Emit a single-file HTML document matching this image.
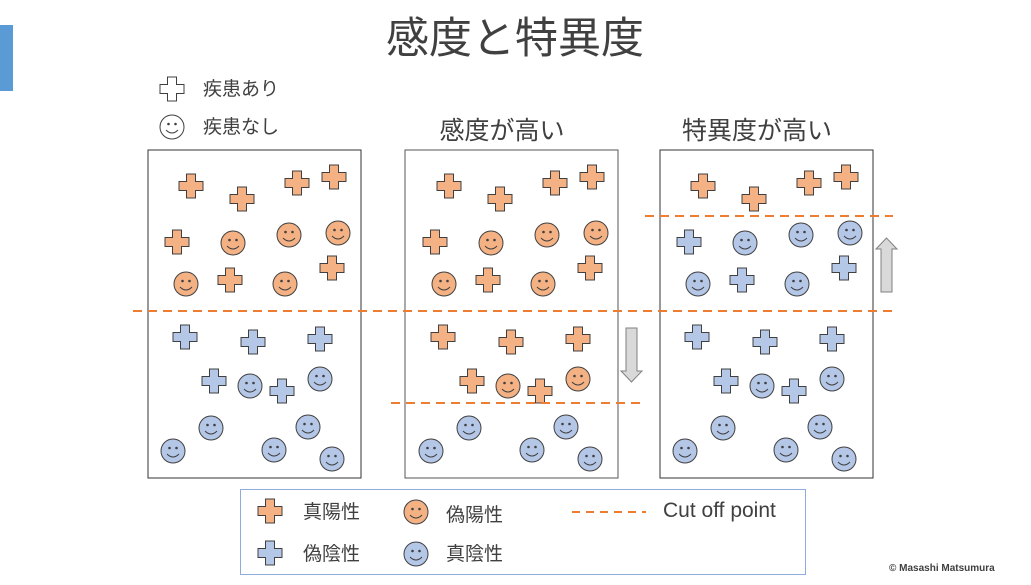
<!DOCTYPE html>
<html><head><meta charset="utf-8"><style>
html,body{margin:0;padding:0;background:#fff;}
svg text{font-family:"Liberation Sans","Noto Sans CJK JP",sans-serif;fill:#404040;}
</style></head><body>
<svg width="1031" height="580" viewBox="0 0 1031 580" xmlns="http://www.w3.org/2000/svg">
<defs>
<path id="cr" d="M-4.5,-12H4.5V-4.5H12V4.5H4.5V12H-4.5V4.5H-12V-4.5H-4.5Z"/>
<g id="sm"><circle r="12" stroke="#404040" stroke-width="1"/>
<circle cx="-3.5" cy="-3" r="1.3" fill="#404040" stroke="none"/><circle cx="3.5" cy="-3" r="1.3" fill="#404040" stroke="none"/>
<path d="M-6,3Q0,9 6,3" fill="none" stroke="#404040" stroke-width="1"/></g>
<g id="oc"><use href="#cr" fill="#F4B183" stroke="#404040" stroke-width="1"/></g>
<g id="bc"><use href="#cr" fill="#B4C7E7" stroke="#404040" stroke-width="1"/></g>
<g id="os"><use href="#sm" fill="#F4B183"/></g>
<g id="bs"><use href="#sm" fill="#B4C7E7"/></g>
</defs>
<rect x="0" y="25" width="13" height="66" fill="#5B9BD5"/>
<text x="515" y="53" font-size="43" text-anchor="middle" fill="#333">感度と特異度</text>
<use href="#cr" x="172" y="89" fill="#fff" stroke="#404040" stroke-width="1"/>
<text x="203" y="95" font-size="19">疾患あり</text>
<g transform="translate(172,127)"><use href="#sm" fill="#fff"/></g>
<text x="203" y="133" font-size="19">疾患なし</text>
<text x="502" y="139" font-size="25" text-anchor="middle">感度が高い</text>
<text x="757" y="139" font-size="25" text-anchor="middle">特異度が高い</text>
<rect x="148" y="150" width="213" height="328" fill="none" stroke="#333" stroke-width="1"/>
<rect x="405" y="150" width="213" height="328" fill="none" stroke="#555" stroke-width="1"/>
<rect x="660" y="150" width="213" height="328" fill="none" stroke="#333" stroke-width="1"/>
<g>
<use href="#oc" x="191" y="186"/><use href="#oc" x="242" y="199"/><use href="#oc" x="297" y="183"/><use href="#oc" x="334" y="177"/>
<use href="#oc" x="177" y="242"/><use href="#oc" x="332" y="268"/><use href="#oc" x="230" y="280"/>
<use href="#os" x="233" y="243"/><use href="#os" x="289" y="235"/><use href="#os" x="338" y="233"/><use href="#os" x="186" y="284"/><use href="#os" x="285" y="284"/>
<use href="#bc" x="185" y="337"/><use href="#bc" x="253" y="342"/><use href="#bc" x="320" y="339"/><use href="#bc" x="214" y="381"/><use href="#bc" x="282" y="391"/>
<use href="#bs" x="250" y="386"/><use href="#bs" x="320" y="379"/><use href="#bs" x="211" y="428"/><use href="#bs" x="308" y="427"/><use href="#bs" x="173" y="451"/><use href="#bs" x="274" y="450"/><use href="#bs" x="332" y="459"/>
</g>
<g transform="translate(258,0)">
<use href="#oc" x="191" y="186"/><use href="#oc" x="242" y="199"/><use href="#oc" x="297" y="183"/><use href="#oc" x="334" y="177"/>
<use href="#oc" x="177" y="242"/><use href="#oc" x="332" y="268"/><use href="#oc" x="230" y="280"/>
<use href="#os" x="233" y="243"/><use href="#os" x="289" y="235"/><use href="#os" x="338" y="233"/><use href="#os" x="186" y="284"/><use href="#os" x="285" y="284"/>
<use href="#oc" x="185" y="337"/><use href="#oc" x="253" y="342"/><use href="#oc" x="320" y="339"/><use href="#oc" x="214" y="381"/><use href="#oc" x="282" y="391"/>
<use href="#os" x="250" y="386"/><use href="#os" x="320" y="379"/><use href="#bs" x="211" y="428"/><use href="#bs" x="308" y="427"/><use href="#bs" x="173" y="451"/><use href="#bs" x="274" y="450"/><use href="#bs" x="332" y="459"/>
</g>
<g transform="translate(512,0)">
<use href="#oc" x="191" y="186"/><use href="#oc" x="242" y="199"/><use href="#oc" x="297" y="183"/><use href="#oc" x="334" y="177"/>
<use href="#bc" x="177" y="242"/><use href="#bc" x="332" y="268"/><use href="#bc" x="230" y="280"/>
<use href="#bs" x="233" y="243"/><use href="#bs" x="289" y="235"/><use href="#bs" x="338" y="233"/><use href="#bs" x="186" y="284"/><use href="#bs" x="285" y="284"/>
<use href="#bc" x="185" y="337"/><use href="#bc" x="253" y="342"/><use href="#bc" x="320" y="339"/><use href="#bc" x="214" y="381"/><use href="#bc" x="282" y="391"/>
<use href="#bs" x="250" y="386"/><use href="#bs" x="320" y="379"/><use href="#bs" x="211" y="428"/><use href="#bs" x="308" y="427"/><use href="#bs" x="173" y="451"/><use href="#bs" x="274" y="450"/><use href="#bs" x="332" y="459"/>
</g>
<g stroke="#ED7D31" stroke-width="2" stroke-dasharray="9,6" fill="none">
<line x1="133" y1="311" x2="893" y2="311"/>
<line x1="391" y1="403" x2="640" y2="403"/>
<line x1="645" y1="216" x2="893" y2="216"/>
</g>
<path d="M626,328H637V371H642L631.5,382L621,371H626Z" fill="#D9D9D9" stroke="#808080" stroke-width="1"/>
<path d="M881,292H892V249H897L886.5,238L876,249H881Z" fill="#D9D9D9" stroke="#808080" stroke-width="1"/>
<rect x="240.5" y="489.5" width="565" height="85" fill="none" stroke="#8FAADC" stroke-width="1"/>
<use href="#oc" x="270" y="511"/>
<text x="303" y="518" font-size="19">真陽性</text>
<use href="#os" x="416" y="512"/>
<text x="446" y="521" font-size="19">偽陽性</text>
<use href="#bc" x="270" y="553"/>
<text x="303" y="560" font-size="19">偽陰性</text>
<use href="#bs" x="416" y="554"/>
<text x="446" y="560" font-size="19">真陰性</text>
<line x1="572" y1="512" x2="646" y2="512" stroke="#ED7D31" stroke-width="2" stroke-dasharray="8,6"/>
<text x="663" y="517" font-size="21">Cut off point</text>
<text x="889" y="571" font-size="10" font-weight="bold" fill="#222">© Masashi Matsumura</text>
</svg>
</body></html>
